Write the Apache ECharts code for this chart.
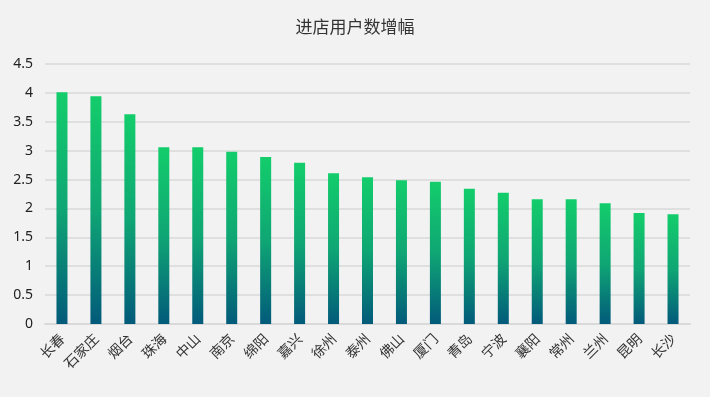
<!DOCTYPE html>
<html>
<head>
<meta charset="utf-8">
<script src="https://cdn.jsdelivr.net/npm/echarts@6/dist/echarts.min.js"></script>
<style>
  html, body { margin: 0; padding: 0; background: #f2f2f2; }
  #main { width: 710px; height: 397px; }
</style>
</head>
<body>
<div id="main"></div>
<script>
var cities = ['长春', '石家庄', '烟台', '珠海', '中山', '南京', '绵阳', '嘉兴', '徐州', '泰州',
  '佛山', '厦门', '青岛', '宁波', '襄阳', '常州', '兰州', '昆明', '长沙'];
var growth = [4.01, 3.94, 3.63, 3.06, 3.06, 2.98, 2.89, 2.79, 2.61, 2.54,
  2.49, 2.46, 2.34, 2.27, 2.16, 2.16, 2.09, 1.92, 1.90];
var yTicks = [0, 0.5, 1, 1.5, 2, 2.5, 3, 3.5, 4, 4.5];

var chart = echarts.init(document.getElementById('main'), null, { renderer: 'canvas' });
var option = {
  backgroundColor: '#f2f2f2',
  title: {
    text: '进店用户数增幅',
    left: 'center',
    top: 13,
    textStyle: { fontSize: 17, fontWeight: 'normal', color: '#333', fontFamily: 'Noto Sans CJK SC' }
  },
  grid: { left: 45, right: 20, top: 64, bottom: 73 },
  xAxis: {
    type: 'category',
    data: cities,
    axisTick: { show: false },
    axisLine: { lineStyle: { color: '#d9d9d9', width: 2 } },
    axisLabel: {
      rotate: 45,
      interval: 0,
      margin: 12,
      fontSize: 14,
      color: '#333',
      fontFamily: 'Noto Sans CJK SC'
    }
  },
  yAxis: {
    type: 'value',
    min: yTicks[0],
    max: yTicks[yTicks.length - 1],
    interval: 0.5,
    axisLine: { show: false },
    axisTick: { show: false },
    splitLine: { lineStyle: { color: '#d9d9d9', width: 1.5 } },
    axisLabel: { fontSize: 14, color: '#222', margin: 12, fontFamily: 'Noto Sans' }
  },
  series: [{
    type: 'bar',
    data: growth,
    barWidth: 11,
    itemStyle: {
      color: new echarts.graphic.LinearGradient(0, 0, 0, 1, [
        { offset: 0, color: '#13cd6b' },
        { offset: 0.5, color: '#0fa674' },
        { offset: 1, color: '#025a7a' }
      ])
    }
  }]
};
chart.setOption(option);
</script>
</body>
</html>
